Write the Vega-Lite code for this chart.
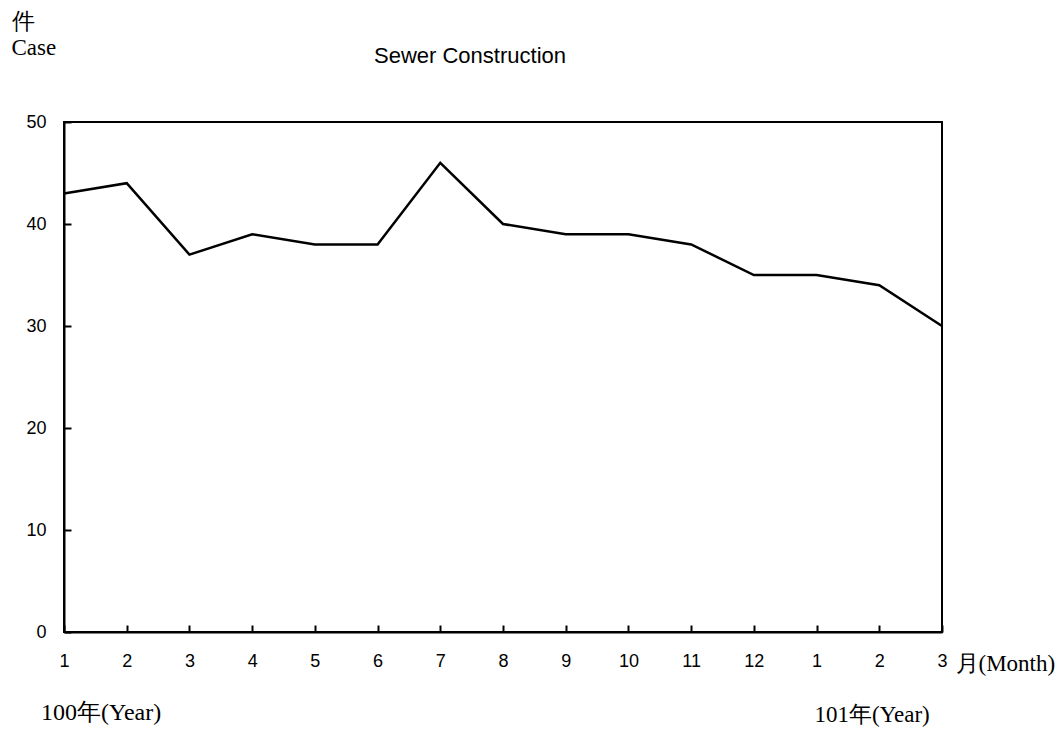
{
  "$schema": "https://vega.github.io/schema/vega-lite/v6.json",
  "width": 878,
  "height": 510,
  "autosize": {"type": "none"},
  "padding": {"left": 64, "top": 122, "right": 122, "bottom": 99},
  "background": "white",
  "config": {
    "view": {"stroke": "black", "strokeWidth": 2},
    "axis": {"grid": false, "domainColor": "black", "domainWidth": 2, "tickColor": "black", "tickWidth": 2, "labelColor": "black", "labelFont": "Liberation Sans", "labelFontSize": 18}
  },
  "title": {
    "text": "Sewer Construction",
    "font": "Liberation Sans",
    "fontSize": 22,
    "fontWeight": "normal",
    "color": "black",
    "anchor": "middle",
    "dx": -33,
    "offset": -58
  },
  "layer": [
    {
      "data": {"values": [
        {"idx": 1, "month": 1, "cases": 43},
        {"idx": 2, "month": 2, "cases": 44},
        {"idx": 3, "month": 3, "cases": 37},
        {"idx": 4, "month": 4, "cases": 39},
        {"idx": 5, "month": 5, "cases": 38},
        {"idx": 6, "month": 6, "cases": 38},
        {"idx": 7, "month": 7, "cases": 46},
        {"idx": 8, "month": 8, "cases": 40},
        {"idx": 9, "month": 9, "cases": 39},
        {"idx": 10, "month": 10, "cases": 39},
        {"idx": 11, "month": 11, "cases": 38},
        {"idx": 12, "month": 12, "cases": 35},
        {"idx": 13, "month": 1, "cases": 35},
        {"idx": 14, "month": 2, "cases": 34},
        {"idx": 15, "month": 3, "cases": 30}
      ]},
      "mark": {"type": "line", "color": "black", "strokeWidth": 2.5},
      "encoding": {
        "x": {
          "field": "idx", "type": "quantitative",
          "scale": {"domain": [1, 15], "nice": false, "zero": false},
          "axis": {
            "values": [1,2,3,4,5,6,7,8,9,10,11,12,13,14,15],
            "labelExpr": "datum.value <= 12 ? datum.value : datum.value - 12",
            "tickSize": -7,
            "labelPadding": 27,
            "labelFlush": false,
            "labelFontSize": 18,
            "title": "月(Month)",
            "titleFont": "Liberation Serif",
            "titleFontSize": 23,
            "titleFontWeight": "normal",
            "titleColor": "black",
            "titleAnchor": "start",
            "titleAlign": "left",
            "titleBaseline": "alphabetic",
            "titleX": 891,
            "titleY": 38
          }
        },
        "y": {
          "field": "cases", "type": "quantitative",
          "scale": {"domain": [0, 50], "nice": false},
          "axis": {
            "values": [0, 10, 20, 30, 40, 50],
            "tickSize": -7,
            "labelPadding": 25,
            "labelFontSize": 18,
            "title": ["件", "Case"],
            "titleFont": "Liberation Serif",
            "titleFontSize": 23,
            "titleFontWeight": "normal",
            "titleColor": "black",
            "titleAngle": 0,
            "titleAlign": "left",
            "titleBaseline": "alphabetic",
            "titleLineHeight": 26,
            "titleX": -53,
            "titleY": -94
          }
        }
      }
    },
    {
      "data": {"values": [{"idx": 1, "label": "100年(Year)"}]},
      "mark": {"type": "text", "align": "left", "baseline": "alphabetic", "font": "Liberation Serif", "fontSize": 24, "color": "black", "dx": -23, "dy": 88},
      "encoding": {
        "x": {"field": "idx", "type": "quantitative"},
        "y": {"datum": 0},
        "text": {"field": "label"}
      }
    },
    {
      "data": {"values": [{"idx": 13, "label": "101年(Year)"}]},
      "mark": {"type": "text", "align": "left", "baseline": "alphabetic", "font": "Liberation Serif", "fontSize": 23, "color": "black", "dx": -2, "dy": 90},
      "encoding": {
        "x": {"field": "idx", "type": "quantitative"},
        "y": {"datum": 0},
        "text": {"field": "label"}
      }
    }
  ]
}
